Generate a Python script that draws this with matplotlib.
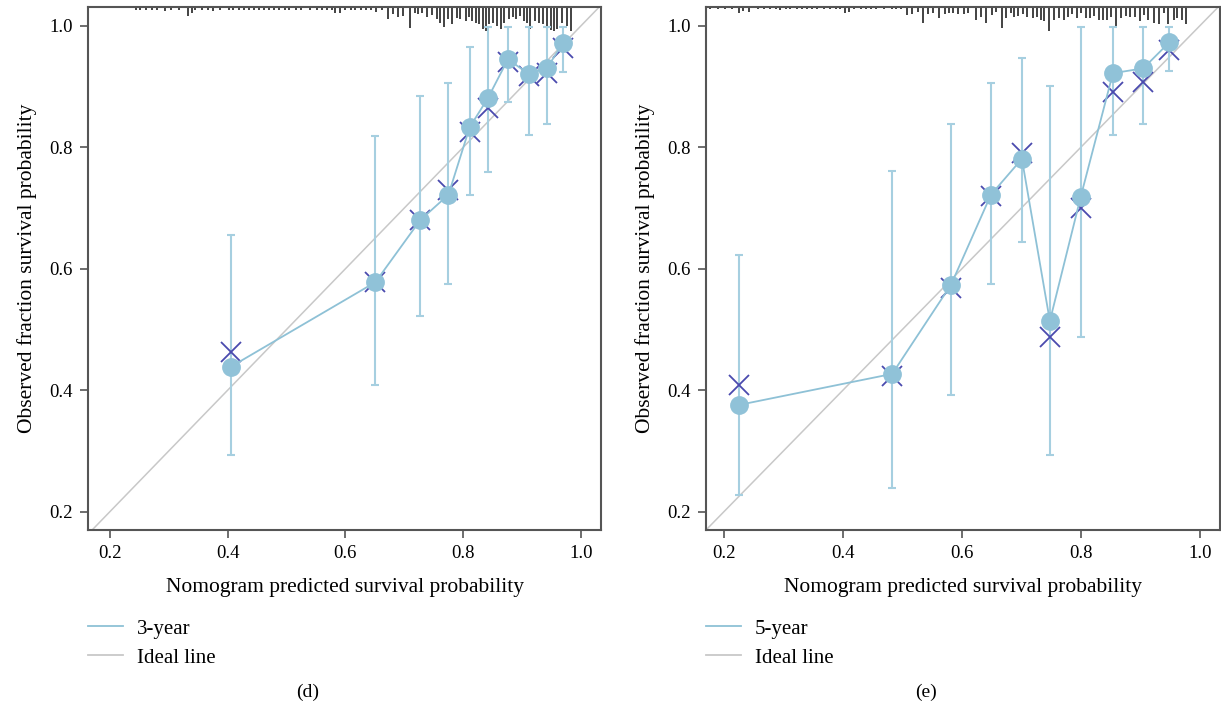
import matplotlib
matplotlib.use("Agg")
import matplotlib.pyplot as plt
from matplotlib.lines import Line2D

plt.rcParams['font.family'] = ['Liberation Serif', 'DejaVu Serif']

# ---- 3-year calibration (panel d) ----
pred_3y = [0.406, 0.651, 0.727, 0.775, 0.811, 0.842, 0.876, 0.911, 0.942, 0.969]
obs_3y = [0.439, 0.578, 0.680, 0.722, 0.833, 0.881, 0.945, 0.921, 0.930, 0.971]
corr_3y = [0.463, 0.578, 0.680, 0.730, 0.826, 0.865, 0.940, 0.917, 0.922, 0.963]
lo_3y = [0.293, 0.409, 0.522, 0.575, 0.721, 0.759, 0.874, 0.821, 0.839, 0.924]
hi_3y = [0.656, 0.819, 0.884, 0.906, 0.965, 0.998, 0.998, 0.998, 0.998, 0.998]

rug_x_3y = [0.244, 0.252, 0.261, 0.271, 0.281, 0.294, 0.304, 0.317, 0.332, 0.339,
            0.344, 0.356, 0.367, 0.376, 0.387, 0.402, 0.410, 0.419, 0.428, 0.436,
            0.445, 0.454, 0.462, 0.471, 0.479, 0.488, 0.497, 0.505, 0.517, 0.525,
            0.540, 0.551, 0.560, 0.568, 0.577, 0.583, 0.591, 0.600, 0.609, 0.617,
            0.626, 0.635, 0.643, 0.652, 0.663, 0.672, 0.680, 0.689, 0.698, 0.709,
            0.718, 0.724, 0.730, 0.738, 0.747, 0.755, 0.761, 0.768, 0.775, 0.781,
            0.790, 0.795, 0.804, 0.810, 0.815, 0.821, 0.827, 0.833, 0.838, 0.844,
            0.850, 0.857, 0.864, 0.870, 0.878, 0.884, 0.890, 0.896, 0.903, 0.909,
            0.914, 0.922, 0.929, 0.936, 0.942, 0.949, 0.955, 0.960, 0.968, 0.976,
            0.983]
rug_n_3y = [2, 2, 2, 2, 2, 3.4, 2, 2, 6.8, 4.4,
            2, 2, 2, 3.4, 2, 2, 2, 2, 2, 2,
            2, 2, 2, 2, 2, 2, 2, 2, 2, 2,
            2, 2, 2, 2, 2, 4.7, 4.4, 2, 2, 2,
            2, 2, 2, 4, 2, 9.5, 5.4, 7.8, 6.8, 16.3,
            4.4, 5.4, 4.4, 7.8, 6.1, 9.5, 12.9, 15.6, 9.5, 13.6,
            8.8, 9.5, 11.2, 7.8, 11.2, 12.9, 13.6, 16.9, 19, 13.6,
            12.2, 14.6, 16.9, 12.2, 9.5, 7.8, 9.5, 6.8, 11.2, 12.9,
            16.9, 11.2, 12.9, 13.6, 14.6, 18, 19, 16.9, 12.9, 14.6,
            19]

# ---- 5-year calibration (panel e) ----
pred_5y = [0.226, 0.483, 0.582, 0.649, 0.701, 0.748, 0.800, 0.854, 0.905, 0.949]
obs_5y = [0.376, 0.427, 0.574, 0.722, 0.781, 0.514, 0.719, 0.922, 0.930, 0.973]
corr_5y = [0.408, 0.424, 0.569, 0.720, 0.790, 0.488, 0.700, 0.891, 0.908, 0.960]
lo_5y = [0.228, 0.239, 0.393, 0.575, 0.644, 0.294, 0.488, 0.821, 0.839, 0.925]
hi_5y = [0.623, 0.761, 0.838, 0.906, 0.947, 0.901, 0.998, 0.998, 0.998, 0.998]

rug_x_5y = [0.177, 0.191, 0.202, 0.213, 0.226, 0.232, 0.243, 0.258, 0.267, 0.278,
            0.288, 0.295, 0.304, 0.312, 0.323, 0.332, 0.339, 0.348, 0.356, 0.369,
            0.379, 0.388, 0.396, 0.404, 0.411, 0.419, 0.430, 0.439, 0.448, 0.456,
            0.469, 0.482, 0.490, 0.497, 0.508, 0.516, 0.526, 0.535, 0.544, 0.552,
            0.562, 0.571, 0.579, 0.586, 0.594, 0.603, 0.611, 0.624, 0.632, 0.640,
            0.650, 0.658, 0.668, 0.675, 0.682, 0.688, 0.695, 0.703, 0.710, 0.719,
            0.727, 0.733, 0.738, 0.747, 0.755, 0.763, 0.771, 0.778, 0.785, 0.793,
            0.800, 0.809, 0.816, 0.823, 0.830, 0.838, 0.844, 0.851, 0.860, 0.868,
            0.876, 0.883, 0.891, 0.899, 0.906, 0.913, 0.923, 0.932, 0.940, 0.947,
            0.956, 0.962, 0.970, 0.977]
rug_n_5y = [2, 2, 2, 2, 5.4, 3.4, 4.4, 2, 2, 2,
            2, 2.7, 2, 2, 2, 2, 2, 2, 2, 2,
            2, 2, 2, 5.4, 4.4, 2, 2, 2, 2, 2,
            2, 2, 2, 2, 7.7, 6.7, 4.4, 15.5, 6.7, 5.4,
            11.1, 6.7, 5.4, 5.4, 6.7, 6.7, 6.0, 12.1, 10.1, 15.5,
            7.7, 4.4, 20.2, 11.1, 6.0, 10.1, 8.7, 6.7, 9.4, 11.1,
            10.1, 12.1, 13.4, 23.5, 12.1, 11.1, 12.1, 10.1, 6.7, 11.1,
            6.0, 11.1, 11.1, 8.7, 12.1, 12.1, 12.1, 9.4, 20.2, 11.1,
            8.7, 10.1, 9.4, 13.4, 7.7, 12.1, 15.5, 16.8, 6.0, 16.1,
            12.1, 11.1, 12.8, 16.8]

ticks = [0.2, 0.4, 0.6, 0.8, 1.0]

LINE_C = '#8ec1d6'
DOT_C = '#90c2d8'
ERR_C = '#a6cfe0'
X_C = '#4a4aae'
IDEAL_C = '#c8c8c8'
SPINE_C = '#555555'
RUG_C = '#222222'


def calib_panel(ax, pred, obs, corr, lo, hi, rug_x, rug_n, xlim, ylim):
    ax.set_xlim(*xlim)
    ax.set_ylim(*ylim)
    ax.plot([0, 1.1], [0, 1.1], color=IDEAL_C, lw=1.1, zorder=1)
    # rug of predicted values hanging from the top
    top = ylim[1]
    scale = 0.040 / max(rug_n)
    ax.vlines(rug_x, [top - n * scale for n in rug_n], top,
              color=RUG_C, lw=1.2, zorder=2)
    err_lo = [o - l for o, l in zip(obs, lo)]
    err_hi = [h - o for o, h in zip(obs, hi)]
    ax.errorbar(pred, obs, yerr=[err_lo, err_hi], fmt='none', ecolor=ERR_C,
                elinewidth=1.5, capsize=2.7, capthick=1.5, zorder=3)
    ax.plot(pred, corr, linestyle='none', marker='x', ms=14, mew=1.3,
            color=X_C, zorder=4)
    ax.plot(pred, obs, color=LINE_C, lw=1.3, zorder=5)
    ax.plot(pred, obs, linestyle='none', marker='o', ms=12.5,
            color=DOT_C, mec=DOT_C, zorder=6)
    ax.set_xticks(ticks)
    ax.set_yticks(ticks)
    ax.set_xticklabels(['%.1f' % t for t in ticks])
    ax.set_yticklabels(['%.1f' % t for t in ticks])
    ax.tick_params(direction='out', length=6, width=1.2, color=SPINE_C,
                   labelsize=13.5, pad=5)
    for s in ax.spines.values():
        s.set_color(SPINE_C)
        s.set_linewidth(1.5)
    ax.set_xlabel('Nomogram predicted survival probability', fontsize=15.5,
                  labelpad=11)
    ax.set_ylabel('Observed fraction survival probability', fontsize=15.5,
                  labelpad=9)


fig = plt.figure(figsize=(12.21, 7.07), dpi=100)
ax1 = fig.add_axes([88 / 1221, 1 - 530 / 707, 513 / 1221, 523 / 707])
ax2 = fig.add_axes([706 / 1221, 1 - 530 / 707, 514 / 1221, 523 / 707])

calib_panel(ax1, pred_3y, obs_3y, corr_3y, lo_3y, hi_3y, rug_x_3y, rug_n_3y,
            (0.163, 1.034), (0.170, 1.031))
calib_panel(ax2, pred_5y, obs_5y, corr_5y, lo_5y, hi_5y, rug_x_5y, rug_n_5y,
            (0.170, 1.034), (0.170, 1.031))

for x0, name, cap in [(88, '3-year', '(d)'), (706, '5-year', '(e)')]:
    handles = [Line2D([], [], color=LINE_C, lw=1.3),
               Line2D([], [], color=IDEAL_C, lw=1.3)]
    fig.legend(handles, [name, 'Ideal line'], loc='upper left',
               bbox_to_anchor=(x0 / 1221, 1 - 619 / 707),
               frameon=False, fontsize=15, handlelength=1.7, borderpad=0,
               borderaxespad=0, handletextpad=0.65, labelspacing=0.46)
    fig.text((x0 + 220) / 1221, 1 - 692 / 707, cap, fontsize=14,
             ha='center', va='center')

fig.savefig('out.png', dpi=100, facecolor='white')
